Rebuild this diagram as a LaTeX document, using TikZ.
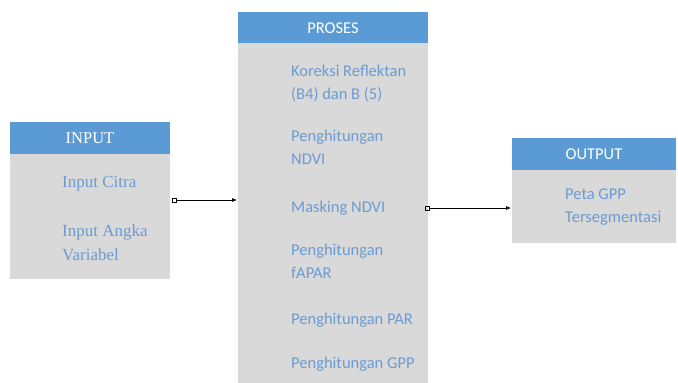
\documentclass[tikz,border=0pt]{standalone}
\usepackage{fontspec}
\setmainfont{Carlito}
\newfontfamily\serifface{Liberation Serif}
\usetikzlibrary{arrows.meta}
\definecolor{hdrblue}{HTML}{5B9BD5}
\definecolor{bodygrey}{HTML}{D9D9D9}
\definecolor{txtblue}{HTML}{6C9BD2}
\begin{document}
\begin{tikzpicture}[x=1pt,y=-1pt,
  hdr/.style={fill=hdrblue,draw=none},
  bodybox/.style={fill=bodygrey,draw=none},
  htext/.style={text=white,font=\fontsize{16.5}{19}\selectfont,inner sep=0pt},
  btext/.style={text=txtblue,font=\fontsize{16.5}{23}\selectfont,align=left,anchor=north west,inner sep=0pt},
  conn/.style={draw=black,line width=0.7pt,{Square[open,length=4.5pt,width=4.5pt,line width=0.6pt]}-{Latex[length=5pt,width=4pt]}}
]
\useasboundingbox (0,0) rectangle (678,383);
% INPUT
\path[bodybox] (10,154) rectangle (170,279);
\path[hdr] (10,122) rectangle (170,154);
\node[htext,font=\serifface\fontsize{16.5}{19}\selectfont] (inhead) at (90,138) {INPUT};
\node[btext,font=\serifface\fontsize{17}{24}\selectfont] (in1) at (62,176) {Input Citra};
\node[btext,font=\serifface\fontsize{17}{24}\selectfont] (in2) at (62,225) {Input Angka\\Variabel};
% PROSES
\path[bodybox] (238,43) rectangle (428,383);
\path[hdr] (238,12) rectangle (428,43);
\node[htext] (prhead) at (333,28) {PROSES};
\node[btext] (p1) at (291,65) {Koreksi Reflektan\\(B4) dan B (5)};
\node[btext] (p2) at (291,130) {Penghitungan\\NDVI};
\node[btext] (p3) at (291,201) {Masking NDVI};
\node[btext] (p4) at (291,244) {Penghitungan\\fAPAR};
\node[btext] (p5) at (291,313) {Penghitungan PAR};
\node[btext] (p6) at (291,357) {Penghitungan GPP};
% OUTPUT
\path[bodybox] (512,170) rectangle (676,243);
\path[hdr] (512,138) rectangle (676,170);
\node[htext] (outhead) at (594,154) {OUTPUT};
\node[btext] (o1) at (565,189) {Peta GPP\\Tersegmentasi};
% connectors
\coordinate (a1s) at (172,200);
\coordinate (a1e) at (237,200);
\coordinate (a2s) at (425,208);
\coordinate (a2e) at (511,208);
\draw[conn] (a1s) -- (a1e);
\draw[conn] (a2s) -- (a2e);
\end{tikzpicture}
\end{document}
